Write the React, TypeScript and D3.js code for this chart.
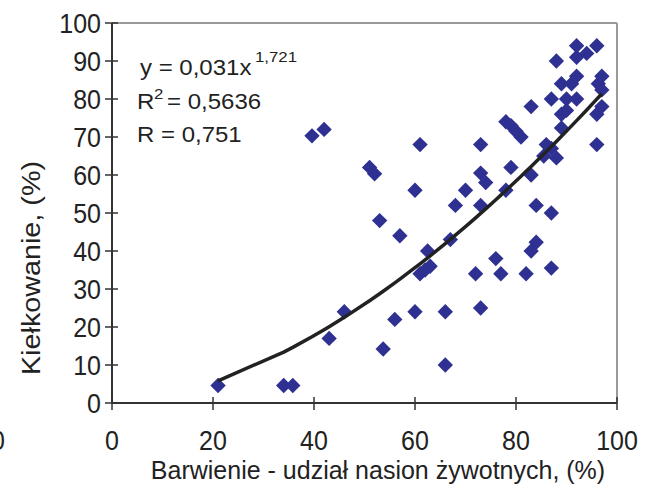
import * as d3 from "d3";

// scatter: seed viability by staining (x) vs germination (y), in %
const viability = [
  21, 34, 35.8, 39.6, 42, 43, 46, 51, 52, 53, 53.7, 56, 57, 60, 60, 61, 61, 62, 63, 62.5,
  66, 66, 67, 68, 70, 72, 73, 73, 74, 73, 73, 76, 77, 78, 79, 80, 81, 78, 79, 82,
  83, 83, 83, 84, 84, 85.5, 86, 87, 87, 87, 87, 88, 88, 89, 89, 89, 90, 90, 91, 92,
  92, 92, 92, 94, 96, 96.3, 96, 96, 97, 97, 97,
];
const germination = [
  4.6, 4.6, 4.6, 70.3, 72, 17, 24, 62, 60.3, 48, 14.2, 22, 44, 56, 24, 68, 34, 35, 36, 40,
  24, 10, 43, 52, 56, 34, 68, 60.5, 58, 52, 25, 38, 34, 74, 73, 71.5, 70, 56, 62, 34,
  78, 60, 40, 42.3, 52, 65, 68, 67, 80, 50, 35.5, 90, 64.5, 84, 76, 72.4, 80, 77, 84, 86,
  91, 94, 80, 92, 94, 84, 76, 68, 86, 82.4, 78,
];

// power trendline shown on the chart: y = a * x^b
const trendA = 0.031;
const trendB = 1.721;

const xTicks = [0, 20, 40, 60, 80, 100];
const yTicks = [0, 10, 20, 30, 40, 50, 60, 70, 80, 90, 100];

const W = 648;
const H = 486;
const plot = { left: 112, right: 617, top: 23, bottom: 403 };
const font = "'Liberation Sans', Arial, sans-serif";
const markerColor = "#2E3192";
const axisColor = "#333";

// text with a per-axis stretch, the source picture is not drawn 1:1
function Txt({ x, y, size = 25, anchor = "start", sx = 1, sy = 1, rotate = 0, children }: any) {
  return (
    <text
      transform={`translate(${x},${y}) rotate(${rotate}) scale(${sx},${sy})`}
      fontFamily={font}
      fontSize={size}
      textAnchor={anchor}
      fill="#222"
    >
      {children}
    </text>
  );
}

export default function App() {
  const x = d3.scaleLinear().domain([0, 100]).range([plot.left, plot.right]);
  const y = d3.scaleLinear().domain([0, 100]).range([plot.bottom, plot.top]);

  const points = viability.map((v, i) => ({ v, g: germination[i] }));
  const diamond = d3.symbol(d3.symbolSquare, 118)()!;

  const trendX = Array.from(new Set(viability)).sort((a, b) => a - b);
  const trend = d3
    .line<number>()
    .x((d) => x(d))
    .y((d) => y(trendA * Math.pow(d, trendB)));

  return (
    <svg width={W} height={H} style={{ position: "absolute", left: 0, top: 0, background: "#fff" }}>
      <rect width={W} height={H} fill="#fff" />

      {/* frame: gray top/right */}
      <line x1={plot.left} x2={plot.right} y1={plot.top} y2={plot.top} stroke="#999" strokeWidth={2} />
      <line x1={plot.right} x2={plot.right} y1={plot.top} y2={plot.bottom} stroke="#999" strokeWidth={2} />

      {/* axes */}
      <line x1={plot.left} x2={plot.right} y1={plot.bottom} y2={plot.bottom} stroke={axisColor} strokeWidth={2} />
      <line x1={plot.left} x2={plot.left} y1={plot.top} y2={plot.bottom} stroke={axisColor} strokeWidth={2} />

      {yTicks.map((t) => (
        <g key={"y" + t}>
          <line x1={plot.left - 7} x2={plot.left + 6} y1={y(t)} y2={y(t)} stroke={axisColor} strokeWidth={1.5} />
          <Txt x={plot.left - 11} y={y(t) + 9.5} anchor="end" sy={1.1}>{t}</Txt>
        </g>
      ))}
      {xTicks.map((t) => (
        <g key={"x" + t}>
          <line x1={x(t)} x2={x(t)} y1={plot.bottom - 6} y2={plot.bottom + 7} stroke={axisColor} strokeWidth={1.5} />
          <Txt x={x(t)} y={450} anchor="middle" sy={1.1}>{t}</Txt>
        </g>
      ))}

      {/* stray label cut at the left edge */}
      <Txt x={5} y={450} anchor="end" sy={1.1}>0</Txt>

      {/* markers */}
      {points.map((p, i) => (
        <path
          key={i}
          d={diamond}
          transform={`translate(${x(p.v)},${y(p.g)}) rotate(45)`}
          fill={markerColor}
        />
      ))}

      {/* trendline */}
      <path d={trend(trendX)!} fill="none" stroke="#222" strokeWidth={3.5} strokeLinejoin="round" />

      {/* equation */}
      <Txt x={140} y={75} size={20} sx={1.2} sy={1.1}>y = 0,031x</Txt>
      <Txt x={255} y={62} size={14} sx={1.2} sy={1.1}>1,721</Txt>
      <Txt x={137} y={109} size={20} sx={1.2} sy={1.1}>R</Txt>
      <Txt x={154} y={99} size={14} sx={1.2} sy={1.1}>2</Txt>
      <Txt x={167} y={109} size={20} sx={1.2} sy={1.1}>= 0,5636</Txt>
      <Txt x={137} y={142} size={20} sx={1.2} sy={1.1}>R = 0,751</Txt>

      {/* axis titles */}
      <Txt x={378} y={479} anchor="middle" sy={1.04}>Barwienie - udział nasion żywotnych, (%)</Txt>
      <Txt x={40} y={268} anchor="middle" rotate={-90} sx={1.15}>
        Kiełkowanie, (%)
      </Txt>
    </svg>
  );
}
